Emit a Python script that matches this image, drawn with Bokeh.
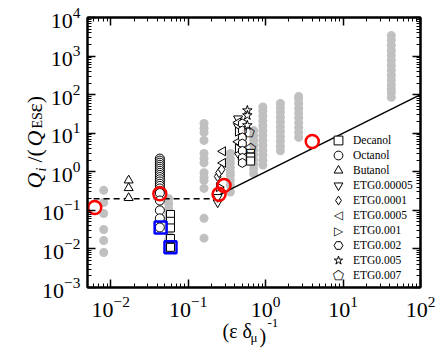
import math
from bokeh.plotting import figure
from bokeh.models import LogAxis, LogTicker, Legend, LegendItem, Label, Title
from bokeh.core.properties import value
from bokeh.embed import file_html
from bokeh.resources import INLINE

SERIF = "Liberation Serif"

# ---------------- data ----------------
gray_cols_x = [0.0081, 0.056, 0.16, 0.35, 0.7, 0.92, 1.55, 2.67, 42]
gray_cols_y = [
    [0.33, 0.16, 0.083, 0.032, 0.0165, 0.0081],
    [0.2, 0.15, 0.11, 0.08, 0.06, 0.045, 0.033, 0.025, 0.018, 0.013, 0.01],
    [17.8, 13.5, 10.5, 6.5, 3.0, 2.2, 1.7, 0.95, 0.72, 0.59, 0.37, 0.062, 0.019],
    [0.3, 0.45, 0.6, 0.8, 1.0, 1.3, 1.7, 2.2, 3.0],
    [0.9, 1.2, 1.6, 2.1, 2.8, 3.7, 5.0, 6.6, 8.8, 11.7],
    [1.5, 2.0, 2.7, 3.6, 4.8, 6.5, 8.7, 11.6, 15.5, 21, 28, 38, 48],
    [3.5, 4.6, 6.2, 8.2, 11, 14.6, 19.5, 26, 35, 46, 59],
    [7.8, 10.5, 14, 18.6, 25, 33, 44, 59, 78, 90],
    [85, 113, 140, 180, 240, 320, 430, 580, 780, 1050, 1400, 1900, 2600, 3400],
]

decanol_x = [0.059, 0.059, 0.059, 0.059, 0.059, 0.64, 0.64, 0.64]
decanol_y = [0.078, 0.052, 0.035, 0.0186, 0.011, 3.0, 2.4, 1.9]

octanol_x = [0.043] * 21
octanol_y = [2.2, 1.95, 1.72, 1.52, 1.35, 1.2, 1.06, 0.94, 0.83, 0.73, 0.64,
             0.56, 0.49, 0.43, 0.37, 0.32, 0.28, 0.18, 0.1, 0.062, 0.036]

butanol_x = [0.017, 0.017, 0.017]
butanol_y = [0.6, 0.38, 0.21]

etg00005_x = [0.24, 0.24, 0.44, 0.44]
etg00005_y = [0.16, 0.22, 24, 15]
etg0001_x = [0.24, 0.25, 0.27, 0.44]
etg0001_y = [0.75, 0.95, 1.15, 3.0]
etg0005_x = [0.28, 0.28, 0.44, 0.44]
etg0005_y = [3.4, 1.7, 19, 6.0]
etg001_x = [0.25, 0.44, 0.44]
etg001_y = [0.4, 11, 4.0]
etg002_x = [0.5, 0.5, 0.5, 0.5, 0.5, 0.5, 0.5]
etg002_y = [17.8, 11.7, 7.8, 5.4, 3.5, 2.3, 1.7]
etg005_x = [0.58, 0.58, 0.58]
etg005_y = [39, 29, 16]
etg007_x = [0.61, 0.64]
etg007_y = [10.5, 4.0]

red_x = [0.0062, 0.043, 0.25, 0.29, 4.0]
red_y = [0.119, 0.27, 0.26, 0.44, 6.1]
blue_x = [0.044, 0.059]
blue_y = [0.036, 0.011]

plateau_x = [0.006, 0.2]
plateau_y = [0.2, 0.2]
fit_x = [0.23, 100]
fit_y = [0.23, 100]

# ---------------- figure ----------------
p = figure(width=441, height=354, x_axis_type="log", y_axis_type="log",
           x_range=(0.005, 100), y_range=(1e-3, 1e4),
           output_backend="svg", toolbar_location=None,
           min_border_left=87, min_border_right=21, min_border_top=17, min_border_bottom=67)
p.xgrid.visible = False
p.ygrid.visible = False
p.outline_line_color = "black"
p.outline_line_width = 2
p.background_fill_color = "white"
p.border_fill_color = "white"

bottom_ax = p.below[0]
left_ax = p.left[0]
top_ax = LogAxis()
right_ax = LogAxis()
p.add_layout(top_ax, "above")
p.add_layout(right_ax, "right")

for ax in [bottom_ax, left_ax, top_ax, right_ax]:
    ax.ticker = LogTicker(desired_num_ticks=10, num_minor_ticks=10)
    ax.axis_line_width = 2
    ax.major_tick_in = 8
    ax.major_tick_out = 0
    ax.minor_tick_in = 4
    ax.minor_tick_out = 0
    ax.major_tick_line_width = 1.5
    ax.minor_tick_line_width = 1
    ax.major_label_text_font = SERIF
    ax.major_label_text_font_size = "22px"
    ax.major_label_text_color = "black"
for ax in [top_ax, right_ax]:
    ax.major_label_text_font_size = "2px"
    ax.major_label_text_alpha = 0
    ax.major_label_standoff = 0
bottom_ax.major_label_standoff = 9
left_ax.major_label_standoff = 7

# gray cloud
gx = [x for x, ys in zip(gray_cols_x, gray_cols_y) for _ in ys]
gy = [y for ys in gray_cols_y for y in ys]
p.scatter(gx, gy, size=9, fill_color="#c0c0c0", line_color=None)

# guide lines
p.line(plateau_x, plateau_y, line_color="black", line_width=1.5, line_dash="6 4")
p.line(fit_x, fit_y, line_color="black", line_width=1.5)

common = dict(fill_color="white", line_color="black", line_width=1)
r_dec = p.scatter(decanol_x, decanol_y, marker="square", size=8, **common)
r_oct = p.scatter(octanol_x, octanol_y, marker="circle", size=9, **common)
r_but = p.scatter(butanol_x, butanol_y, marker="triangle", size=9, **common)
r_e1 = p.scatter(etg00005_x, etg00005_y, marker="inverted_triangle", size=9, **common)
r_e2 = p.scatter(etg0001_x, etg0001_y, marker="diamond", size=10, **common)
p.scatter(etg0005_x, etg0005_y, marker="triangle", angle=math.pi / 2, size=9, **common)
p.scatter(etg001_x, etg001_y, marker="triangle", angle=-math.pi / 2, size=9, **common)
r_e5 = p.scatter(etg002_x, etg002_y, marker="hex", angle=math.pi / 6, size=9, **common)
r_e6 = p.scatter(etg005_x, etg005_y, marker="star", size=10, **common)
p.text(etg007_x, etg007_y, text=["\u2b20"] * len(etg007_x),
       text_font=value("DejaVu Sans"), text_font_size="13px",
       text_align="center", text_baseline="middle", text_color="black")
# placeholders for legend rows whose symbol is drawn as a text label
r_blank = p.scatter([], [], marker="circle", size=1, fill_alpha=0, line_alpha=0)

p.scatter(red_x, red_y, marker="circle", size=13, fill_color=None, line_color="red", line_width=2.5)
p.scatter(blue_x, blue_y, marker="square", size=12, fill_color=None, line_color="blue", line_width=2.5)

# legend split in two interleaved columns of rows (pitch 15px)
legA_labels = ["Decanol", "Butanol", "ETG0.0001", "ETG0.001", "ETG0.005"]
legA_rends = [r_dec, r_but, r_e2, r_blank, r_e6]
legB_labels = ["Octanol", "ETG0.00005", "ETG0.0005", "ETG0.002", "ETG0.007"]
legB_rends = [r_oct, r_e1, r_blank, r_e5, r_blank]
for labs, rends, vy in [(legA_labels, legA_rends, 16), (legB_labels, legB_rends, 1)]:
    lg = Legend(items=[LegendItem(label=l, renderers=[r]) for l, r in zip(labs, rends)],
                location=(240, vy), glyph_width=22, glyph_height=22, label_height=22,
                spacing=8, padding=0, margin=0, label_standoff=4,
                background_fill_alpha=0, border_line_color=None,
                label_text_font=SERIF, label_text_font_size="11.5px",
                label_text_color="black", label_text_baseline="middle")
    p.add_layout(lg)

for sym, fy, fs in [("\u25c1", 73, "12px"), ("\u25b7", 57, "12px"), ("\u2b20", 12, "13px")]:
    p.add_layout(Label(x=251, y=fy, x_units="screen", y_units="screen", text=sym,
                       text_font="DejaVu Sans", text_font_size=fs, text_color="black",
                       text_align="center", text_baseline="middle"))

# ---- axis titles built from Title pieces ----
def piece(side, text, size, offset, standoff, italic=False):
    t = Title(text=text, align="left", offset=offset, standoff=standoff,
              vertical_align="bottom", text_font=SERIF, text_font_size=f"{size}px",
              text_font_style="italic" if italic else "normal", text_color="black")
    p.add_layout(t, side)

piece("below", "-1", 13, 180, -5)
piece("below", "(\u03b5 \u03b4", 20, 135, -14.5)
piece("below", ")", 20, 172, -24)
piece("below", "\u03bc", 13, 163, -13.5)

piece("left", " ", 14, 0, -20.7)
piece("left", "i", 14, 116, -18.1, True)
piece("left", "ES", 14, 159, -10.8)
piece("left", "Q", 22, 99, -27.3, True)
piece("left", "/(", 22, 125, -27.3)
piece("left", "Q", 22, 141, -27.3, True)
piece("left", "\u03b5)", 22, 175, -27.3)

open("out.html", "w").write(file_html(p, INLINE))
